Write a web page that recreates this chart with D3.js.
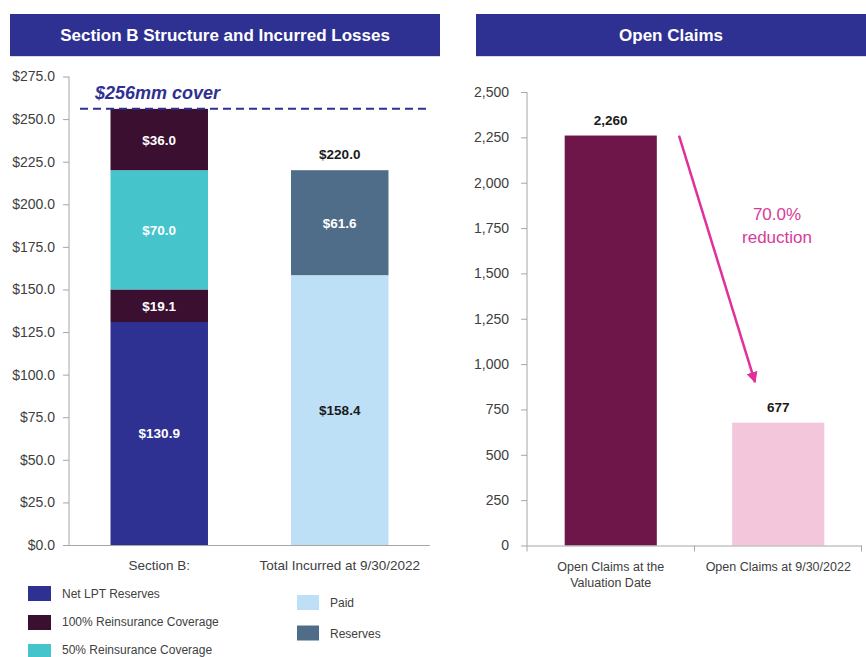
<!DOCTYPE html>
<html>
<head>
<meta charset="utf-8">
<script src="https://cdn.jsdelivr.net/npm/d3@7"></script>
<style>
    body { margin: 0; background: #ffffff; }
    svg { font-family: "Liberation Sans", Arial, sans-serif; }
    .axis .tick text { fill: #404040; font-size: 14px; font-family: "Liberation Sans", Arial, sans-serif; }
    .axis path, .axis line { stroke: #a6a6a6; }
</style>
</head>
<body>
<div id="chart"></div>
<script>
// left chart data
let leftCats = ["Section B:", "Total Incurred at 9/30/2022"];
let sectionBNames = ["Net LPT Reserves", "100% Reinsurance Coverage", "50% Reinsurance Coverage", "100% Reinsurance Coverage"];
let sectionBVals = [130.9, 19.1, 70.0, 36.0];
let incurredNames = ["Paid", "Reserves"];
let incurredVals = [158.4, 61.6];
let incurredTotal = 220.0;
let coverLimit = 256;
let leftTicks = [0, 25, 50, 75, 100, 125, 150, 175, 200, 225, 250, 275];

// right chart data
let rightCats = [["Open Claims at the", "Valuation Date"], ["Open Claims at 9/30/2022"]];
let openClaims = [2260, 677];
let rightTicks = [0, 250, 500, 750, 1000, 1250, 1500, 1750, 2000, 2250, 2500];
let reductionPct = "70.0%";

let colors = {
    "Net LPT Reserves": "#2e3192",
    "100% Reinsurance Coverage": "#3a0f30",
    "50% Reinsurance Coverage": "#45c4cc",
    "Paid": "#bde0f6",
    "Reserves": "#4f6d89"
};
let labelColors = { "Paid": "#1a1a1a" };
let claimColors = ["#6e1649", "#f4c6dc"];
let navy = "#2e3192";

var svg = d3.select("#chart")
    .append("svg")
    .attr("width", 866)
    .attr("height", 657);

function header(x0, x1, txt) {
    svg.append("rect")
        .attr("x", x0).attr("y", 14)
        .attr("width", x1 - x0).attr("height", 42)
        .attr("fill", navy);
    svg.append("line")
        .attr("x1", x0).attr("x2", x1)
        .attr("y1", 56.5).attr("y2", 56.5)
        .attr("stroke", "#d9d9e8");
    svg.append("text")
        .attr("x", (x0 + x1) / 2).attr("y", 41)
        .attr("text-anchor", "middle")
        .attr("fill", "#ffffff")
        .attr("font-size", "17px")
        .attr("font-weight", "bold")
        .text(txt);
}
header(10, 440, "Section B Structure and Incurred Losses");
header(476, 866, "Open Claims");

// ---------- left chart ----------
var xL = d3.scaleBand().domain(leftCats).range([69, 430]).paddingInner(0.46).paddingOuter(0.23);
var yL = d3.scaleLinear().domain([0, 275]).range([545, 76.5]);

svg.append("g")
    .attr("class", "axis")
    .attr("transform", "translate(69,0)")
    .call(d3.axisLeft(yL).tickValues(leftTicks).tickSize(6).tickPadding(8)
        .tickFormat(d => "$" + d3.format(".1f")(d)))
    .call(g => g.select(".domain").attr("d", "M0," + yL(275) + "V" + yL(0)));

function stack(vals, names) {
    let acc = 0;
    return vals.map(function(v, i) {
        let o = { name: names[i], v: v, y0: acc, y1: acc + v };
        acc += v;
        return o;
    });
}

var stacks = [stack(sectionBVals, sectionBNames), stack(incurredVals, incurredNames)];

stacks.forEach(function(st, ci) {
    var g = svg.append("g");
    g.selectAll("rect")
        .data(st)
        .enter()
        .append("rect")
        .attr("x", xL(leftCats[ci]))
        .attr("width", xL.bandwidth())
        .attr("y", d => yL(d.y1))
        .attr("height", d => yL(d.y0) - yL(d.y1))
        .attr("fill", d => colors[d.name]);
    g.selectAll("text")
        .data(st)
        .enter()
        .append("text")
        .attr("x", xL(leftCats[ci]) + xL.bandwidth() / 2)
        .attr("y", d => (yL(d.y0) + yL(d.y1)) / 2 + 5)
        .attr("text-anchor", "middle")
        .attr("fill", d => labelColors[d.name] || "#ffffff")
        .attr("font-size", "13.5px")
        .attr("font-weight", "bold")
        .text(d => "$" + d3.format(".1f")(d.v));
});

svg.append("text")
    .attr("x", xL(leftCats[1]) + xL.bandwidth() / 2)
    .attr("y", yL(incurredTotal) - 11)
    .attr("text-anchor", "middle")
    .attr("fill", "#1a1a1a")
    .attr("font-size", "13.5px")
    .attr("font-weight", "bold")
    .text("$" + d3.format(".1f")(incurredTotal));

// x axis left
svg.append("line")
    .attr("x1", 69).attr("x2", 430)
    .attr("y1", yL(0) + 0.5).attr("y2", yL(0) + 0.5)
    .attr("stroke", "#a6a6a6");
svg.selectAll(".lcat")
    .data(leftCats)
    .enter()
    .append("text")
    .attr("x", d => xL(d) + xL.bandwidth() / 2)
    .attr("y", 570)
    .attr("text-anchor", "middle")
    .attr("fill", "#404040")
    .attr("font-size", "13.5px")
    .text(d => d);

// cover line
svg.append("line")
    .attr("x1", 80).attr("x2", 427)
    .attr("y1", yL(coverLimit)).attr("y2", yL(coverLimit))
    .attr("stroke", navy)
    .attr("stroke-width", 2)
    .attr("stroke-dasharray", "8,5");
svg.append("text")
    .attr("x", 95).attr("y", 99)
    .attr("fill", navy)
    .attr("font-size", "18px")
    .attr("font-weight", "bold")
    .attr("font-style", "italic")
    .text("$" + coverLimit + "mm cover");

// legend
var legL = ["Net LPT Reserves", "100% Reinsurance Coverage", "50% Reinsurance Coverage"];
legL.forEach(function(n, i) {
    svg.append("rect")
        .attr("x", 28).attr("y", 586 + i * 29)
        .attr("width", 23).attr("height", 15)
        .attr("fill", colors[n]);
    svg.append("text")
        .attr("x", 62).attr("y", 598 + i * 28)
        .attr("fill", "#404040")
        .attr("font-size", "12px")
        .text(n);
});
incurredNames.forEach(function(n, i) {
    svg.append("rect")
        .attr("x", 297).attr("y", 595 + i * 30.5)
        .attr("width", 22).attr("height", 15)
        .attr("fill", colors[n]);
    svg.append("text")
        .attr("x", 330).attr("y", 607 + i * 30.5)
        .attr("fill", "#404040")
        .attr("font-size", "12px")
        .text(n);
});

// ---------- right chart ----------
var xR = d3.scaleBand().domain([0, 1]).range([527, 862]).paddingInner(0.45).paddingOuter(0.225);
var yR = d3.scaleLinear().domain([0, 2500]).range([545.5, 92]);

svg.append("g")
    .attr("class", "axis")
    .attr("transform", "translate(527,0)")
    .call(d3.axisLeft(yR).tickValues(rightTicks).tickSize(6).tickPadding(12)
        .tickFormat(d3.format(",")))
    .call(g => g.select(".domain").attr("d", "M0," + yR(2500) + "V" + yR(0)));

svg.selectAll(".cbar")
    .data(openClaims)
    .enter()
    .append("rect")
    .attr("x", (d, i) => xR(i))
    .attr("width", xR.bandwidth())
    .attr("y", d => yR(d))
    .attr("height", d => yR(0) - yR(d))
    .attr("fill", (d, i) => claimColors[i]);

svg.selectAll(".clab")
    .data(openClaims)
    .enter()
    .append("text")
    .attr("x", (d, i) => xR(i) + xR.bandwidth() / 2)
    .attr("y", d => yR(d) - 11)
    .attr("text-anchor", "middle")
    .attr("fill", "#1a1a1a")
    .attr("font-size", "13.5px")
    .attr("font-weight", "bold")
    .text(d => d3.format(",")(d));

// x axis right with boundary ticks
svg.append("line")
    .attr("x1", 527).attr("x2", 862)
    .attr("y1", yR(0) + 0.5).attr("y2", yR(0) + 0.5)
    .attr("stroke", "#a6a6a6");
[527, 694.5, 861.5].forEach(function(x) {
    svg.append("line")
        .attr("x1", x).attr("x2", x)
        .attr("y1", yR(0)).attr("y2", yR(0) + 6)
        .attr("stroke", "#a6a6a6");
});
rightCats.forEach(function(lines, i) {
    var t = svg.append("text")
        .attr("text-anchor", "middle")
        .attr("fill", "#404040")
        .attr("font-size", "12.5px");
    lines.forEach(function(l, j) {
        t.append("tspan")
            .attr("x", xR(i) + xR.bandwidth() / 2)
            .attr("y", 571 + j * 16)
            .text(l);
    });
});

// reduction arrow
svg.append("defs").append("marker")
    .attr("id", "ah")
    .attr("viewBox", "0 0 10 10")
    .attr("refX", 9).attr("refY", 5)
    .attr("markerWidth", 4.5).attr("markerHeight", 4.5)
    .attr("orient", "auto")
    .append("path")
    .attr("d", "M0,0L10,5L0,10z")
    .attr("fill", "#e0309a");
svg.append("line")
    .attr("x1", 679).attr("y1", yR(2260))
    .attr("x2", 755).attr("y2", yR(900))
    .attr("stroke", "#e0309a")
    .attr("stroke-width", 2.5)
    .attr("marker-end", "url(#ah)");
svg.append("text")
    .attr("x", 777).attr("y", 220)
    .attr("text-anchor", "middle")
    .attr("fill", "#d63c97")
    .attr("font-size", "17px")
    .text(reductionPct);
svg.append("text")
    .attr("x", 777).attr("y", 243)
    .attr("text-anchor", "middle")
    .attr("fill", "#d63c97")
    .attr("font-size", "17px")
    .text("reduction");
</script>
</body>
</html>
